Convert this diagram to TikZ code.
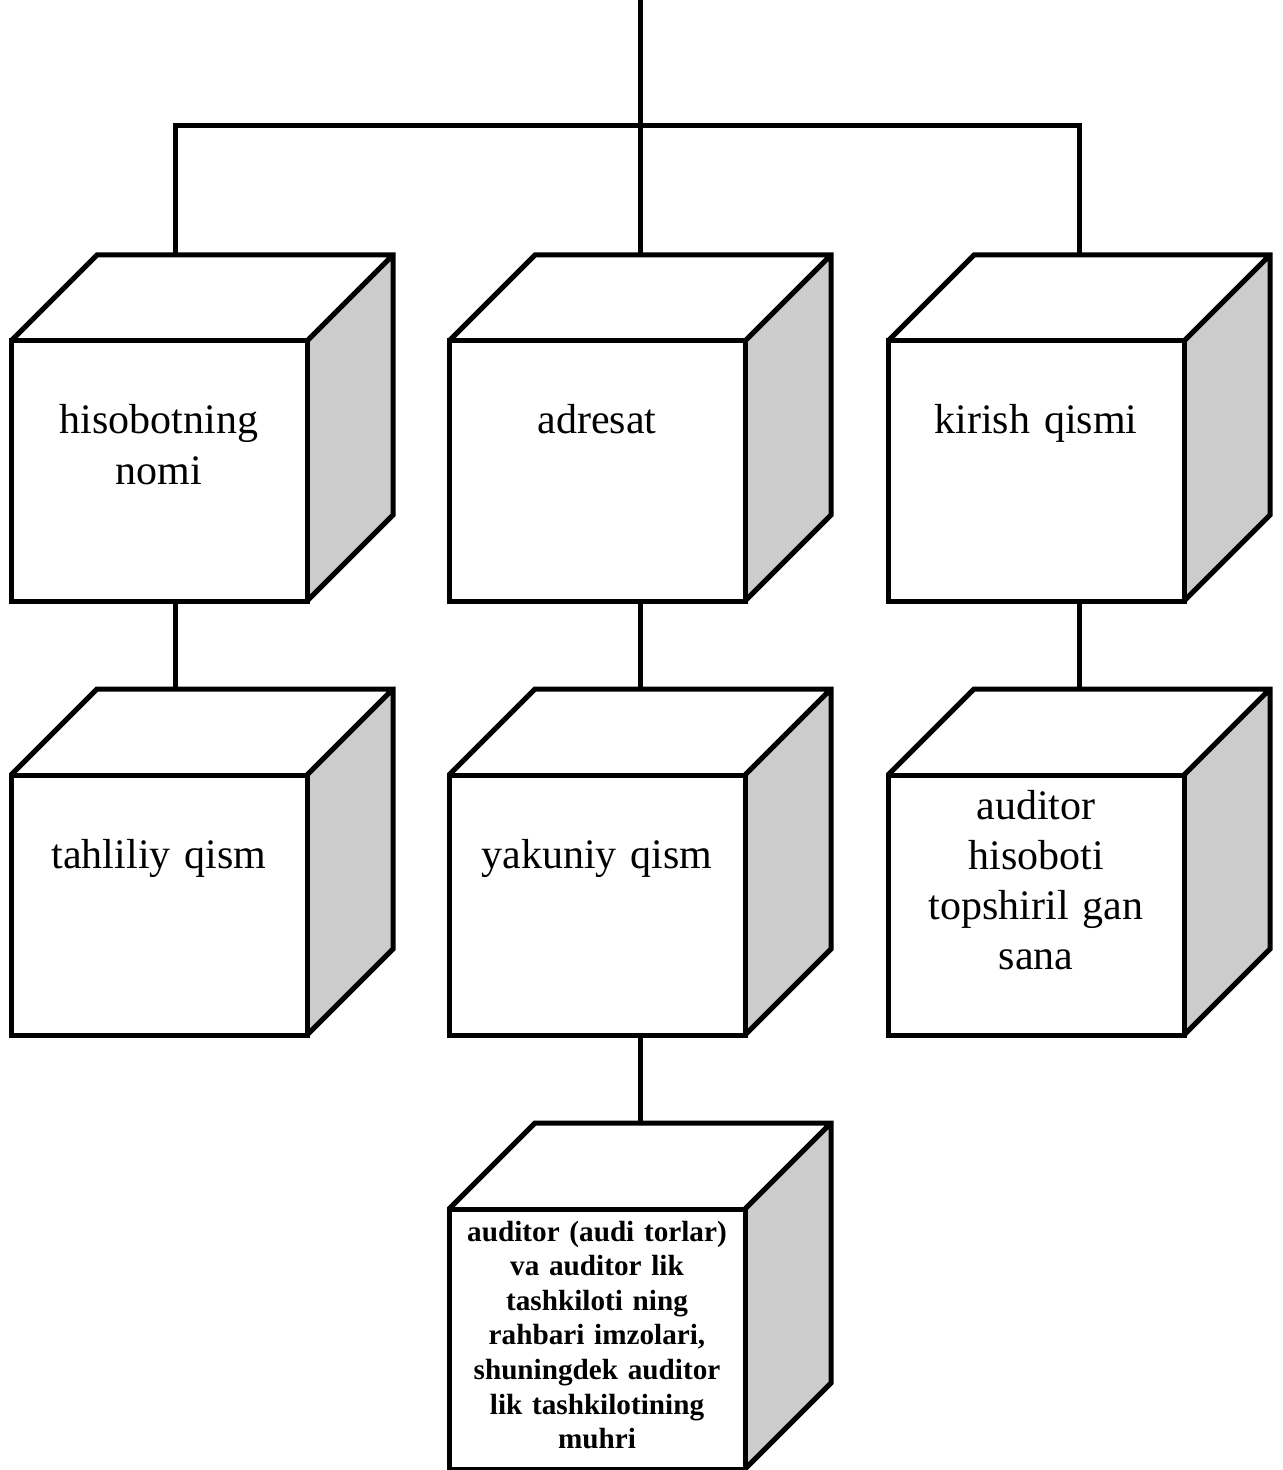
\documentclass[tikz,border=0pt]{standalone}
\usepackage{fontspec}
\setmainfont{Liberation Serif}
\usepackage{tikz}
\usetikzlibrary{positioning, backgrounds}
\definecolor{cubeSide}{RGB}{204, 204, 204}

\begin{document}
\begin{tikzpicture}[
        face/.style={
            rectangle, draw=black, line width=2.5pt, fill=white,
            text width=148pt, inner sep=0pt, outer sep=0pt, align=center,
            font=\fontsize{21pt}{25pt}\selectfont,
            text height=46.5pt, text depth=83.5pt
        },
        smallbold/.style={
            font=\fontsize{14.6pt}{17.3pt}\selectfont\bfseries
        },
        cubeside/.style={fill=cubeSide},
        cubeedge/.style={draw=black, line width=2.5pt},
        line/.style={draw=black, line width=2.5pt}
    ]

    \useasboundingbox (0, 0) rectangle (641pt, -735pt);

    % TOP ROW
    \node[face, anchor=north west] (c1) at (5.5pt, -170.5pt) {hisobotning\\nomi};
    \node[face, right=71pt of c1] (c2) {adresat};
    \node[face, right=71.5pt of c2] (c3) {kirish qismi};

    % SECOND ROW
    \node[face, below=87pt of c1] (c4) {tahliliy qism};
    \node[face, below=87pt of c2] (c5) {yakuniy qism};
    \node[face, below=87pt of c3, text height=22pt, text depth=108pt] (c6) {auditor\\hisoboti\\topshiril gan\\sana};

    % BOTTOM BOX
    \node[face, smallbold, below=87pt of c5, text height=16pt, text depth=114pt] (c7)
        {auditor (audi torlar)\\va auditor lik\\tashkiloti ning\\rahbari imzolari,\\shuningdek auditor\\lik tashkilotining\\muhri};

    % CONNECTORS FROM THE TOP
    \coordinate (top) at (320pt, 0);
    \coordinate (hub) at (320pt, -63pt);
    \draw[line] (top) -- ([xshift=21.5pt, yshift=43pt]c2.north);
    \draw[line] ([xshift=8pt, yshift=43pt]c1.north) |- (hub);
    \draw[line] ([xshift=21.5pt, yshift=43pt]c3.north) |- (hub);

    % CONNECTORS BETWEEN ROWS
    \draw[line] ([xshift=8pt]c1.south) -- ([xshift=8pt, yshift=43pt]c4.north);
    \draw[line] ([xshift=21.5pt]c2.south) -- ([xshift=21.5pt, yshift=43pt]c5.north);
    \draw[line] ([xshift=21.5pt]c3.south) -- ([xshift=21.5pt, yshift=43pt]c6.north);
    \draw[line] ([xshift=21.5pt]c5.south) -- ([xshift=21.5pt, yshift=43pt]c7.north);

    % GREY SIDES (behind the front faces)
    \begin{scope}[on background layer]
        \fill[cubeside] (c1.north east) -- ++(43pt, 43pt) -- ++(0, -130pt) -- (c1.south east) -- cycle;
        \fill[cubeside] (c2.north east) -- ++(43pt, 43pt) -- ++(0, -130pt) -- (c2.south east) -- cycle;
        \fill[cubeside] (c3.north east) -- ++(43pt, 43pt) -- ++(0, -130pt) -- (c3.south east) -- cycle;
        \fill[cubeside] (c4.north east) -- ++(43pt, 43pt) -- ++(0, -130pt) -- (c4.south east) -- cycle;
        \fill[cubeside] (c5.north east) -- ++(43pt, 43pt) -- ++(0, -130pt) -- (c5.south east) -- cycle;
        \fill[cubeside] (c6.north east) -- ++(43pt, 43pt) -- ++(0, -130pt) -- (c6.south east) -- cycle;
        \fill[cubeside] (c7.north east) -- ++(43pt, 43pt) -- ++(0, -130pt) -- (c7.south east) -- cycle;
    \end{scope}

    % CUBE EDGES (outline of lid and side, plus the inner diagonal)
    \draw[cubeedge] (c1.north west) -- ++(43pt, 43pt) -- ++(148pt, 0) -- ++(0, -130pt) -- (c1.south east) (c1.north east) -- ++(43pt, 43pt);
    \draw[cubeedge] (c2.north west) -- ++(43pt, 43pt) -- ++(148pt, 0) -- ++(0, -130pt) -- (c2.south east) (c2.north east) -- ++(43pt, 43pt);
    \draw[cubeedge] (c3.north west) -- ++(43pt, 43pt) -- ++(148pt, 0) -- ++(0, -130pt) -- (c3.south east) (c3.north east) -- ++(43pt, 43pt);
    \draw[cubeedge] (c4.north west) -- ++(43pt, 43pt) -- ++(148pt, 0) -- ++(0, -130pt) -- (c4.south east) (c4.north east) -- ++(43pt, 43pt);
    \draw[cubeedge] (c5.north west) -- ++(43pt, 43pt) -- ++(148pt, 0) -- ++(0, -130pt) -- (c5.south east) (c5.north east) -- ++(43pt, 43pt);
    \draw[cubeedge] (c6.north west) -- ++(43pt, 43pt) -- ++(148pt, 0) -- ++(0, -130pt) -- (c6.south east) (c6.north east) -- ++(43pt, 43pt);
    \draw[cubeedge] (c7.north west) -- ++(43pt, 43pt) -- ++(148pt, 0) -- ++(0, -130pt) -- (c7.south east) (c7.north east) -- ++(43pt, 43pt);

\end{tikzpicture}
\end{document}
